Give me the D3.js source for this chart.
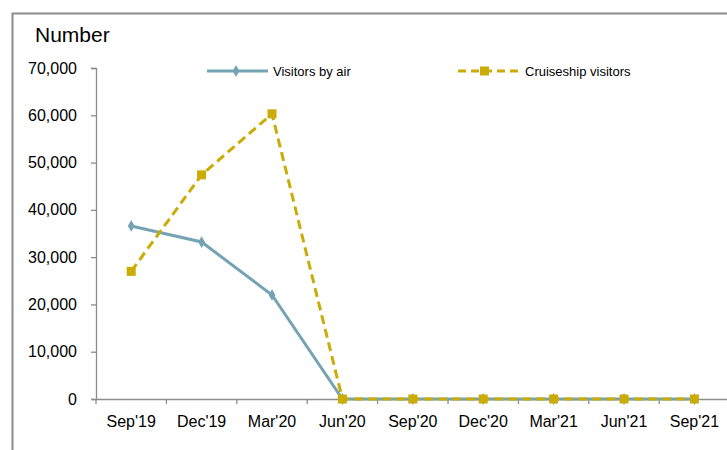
<!DOCTYPE html>
<html>
<head>
<meta charset="utf-8">
<script src="https://cdn.jsdelivr.net/npm/d3@7"></script>
<style>
  body { margin: 0; background: #fff; }
  text { font-family: "Liberation Sans", Arial, sans-serif; fill: #000; }
</style>
</head>
<body>
<svg width="727" height="450"></svg>
<script>
const categories = ["Sep'19", "Dec'19", "Mar'20", "Jun'20", "Sep'20", "Dec'20", "Mar'21", "Jun'21", "Sep'21"]
const airVisitors = [36600, 33200, 22000, 0, 0, 0, 0, 0, 0]
const cruiseVisitors = [27000, 47400, 60300, 0, 0, 0, 0, 0, 0]
const yTicks = [0, 10000, 20000, 30000, 40000, 50000, 60000, 70000]

const airColor = "#74a3b4"
const cruiseColor = "#cbab06"

const svg = d3.select("svg")

// outer frame
svg.append("path")
    .attr("d", "M12.5,460 L12.5,13.5 L740,13.5")
    .attr("fill", "none")
    .attr("stroke", "#8c8c8c")
    .attr("stroke-width", 2)

const x = d3.scaleBand()
    .domain(categories)
    .range([96, 96 + 9 * 70.4])

const y = d3.scaleLinear()
    .domain([0, 70000])
    .range([399, 68])

// y axis
const yAxis = svg.append("g")
    .attr("transform", "translate(96,0)")
    .call(d3.axisLeft(y).tickValues(yTicks).tickSize(5)
        .tickFormat(d3.format(",")))
yAxis.selectAll("path, line").attr("stroke", "#8c8c8c").attr("stroke-width", 1.3)
yAxis.selectAll("text").style("font-size", "16px").attr("x", -19)

// x axis
const xAxis = svg.append("g")
    .attr("transform", "translate(0,399)")
    .call(d3.axisBottom(x).tickSize(0).tickPadding(17))
xAxis.selectAll("path").attr("stroke", "#8c8c8c").attr("stroke-width", 1.3)
xAxis.selectAll("text").style("font-size", "16px")
xAxis.selectAll(".sep")
    .data(categories)
    .enter()
    .append("line")
    .attr("class", "sep")
    .attr("x1", d => x(d))
    .attr("x2", d => x(d))
    .attr("y1", 0)
    .attr("y2", 5)
    .attr("stroke", "#8c8c8c")
    .attr("stroke-width", 1.3)

svg.append("text")
    .attr("x", 35)
    .attr("y", 42)
    .style("font-size", "21px")
    .text("Number")

const cx = d => x(d) + x.bandwidth() / 2

const line = d3.line()
    .x((d, i) => cx(categories[i]))
    .y(d => y(d))

// air series
svg.append("path")
    .datum(airVisitors)
    .attr("d", line)
    .attr("fill", "none")
    .attr("stroke", airColor)
    .attr("stroke-width", 3)

const diamond = d3.symbol().type(d3.symbolDiamond).size(40)

svg.append("g")
    .selectAll("path")
    .data(airVisitors)
    .enter()
    .append("path")
    .attr("d", diamond)
    .attr("transform", (d, i) => "translate(" + cx(categories[i]) + "," + y(d) + ")")
    .attr("fill", airColor)

// cruise series
svg.append("path")
    .datum(cruiseVisitors)
    .attr("d", line)
    .attr("fill", "none")
    .attr("stroke", cruiseColor)
    .attr("stroke-width", 3)
    .attr("stroke-dasharray", "9,5")

svg.append("g")
    .selectAll("rect")
    .data(cruiseVisitors)
    .enter()
    .append("rect")
    .attr("x", (d, i) => cx(categories[i]) - 4.5)
    .attr("y", d => y(d) - 4.5)
    .attr("width", 9)
    .attr("height", 9)
    .attr("fill", cruiseColor)

// legend
const legend = svg.append("g")

legend.append("line")
    .attr("x1", 207).attr("x2", 268)
    .attr("y1", 71).attr("y2", 71)
    .attr("stroke", airColor)
    .attr("stroke-width", 3)
legend.append("path")
    .attr("d", diamond)
    .attr("transform", "translate(236,71)")
    .attr("fill", airColor)
legend.append("text")
    .attr("x", 273).attr("y", 75.5)
    .style("font-size", "13px")
    .text("Visitors by air")

legend.append("line")
    .attr("x1", 458).attr("x2", 520)
    .attr("y1", 71).attr("y2", 71)
    .attr("stroke", cruiseColor)
    .attr("stroke-width", 3)
    .attr("stroke-dasharray", "8,5")
legend.append("rect")
    .attr("x", 480).attr("y", 66.5)
    .attr("width", 9).attr("height", 9)
    .attr("fill", cruiseColor)
legend.append("text")
    .attr("x", 525).attr("y", 75.5)
    .style("font-size", "13px")
    .text("Cruiseship visitors")
</script>
</body>
</html>
